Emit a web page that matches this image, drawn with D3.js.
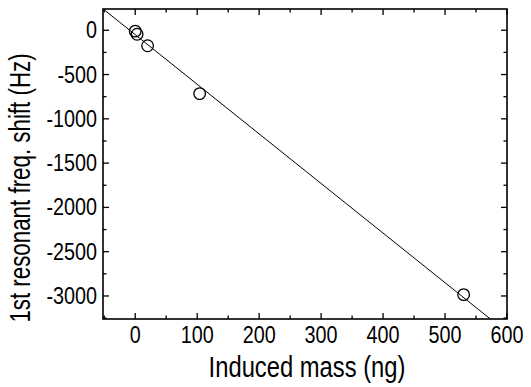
<!DOCTYPE html>
<html>
<head>
<meta charset="utf-8">
<script src="https://cdn.jsdelivr.net/npm/d3@7"></script>
<style>
  html, body { margin: 0; padding: 0; background: #fff; }
  svg { display: block; }
  text { font-family: Arial, "Liberation Sans", sans-serif; fill: #000; }
</style>
</head>
<body>
<svg id="chart" width="531" height="387"></svg>
<script>
// ---- data ----
const massNg = [0, 3, 20, 104, 530];
const freqShiftHz = [-10, -45, -175, -715, -2985];
const fitSlope = -5.6;      // Hz per ng
const fitIntercept = -50;   // Hz
const xTicks = [0, 100, 200, 300, 400, 500, 600];
const xMinorTicks = [-50, 50, 150, 250, 350, 450, 550];
const yTicks = [0, -500, -1000, -1500, -2000, -2500, -3000];
const yMinorTicks = [-250, -750, -1250, -1750, -2250, -2750, -3250];
const xTitle = "Induced mass (ng)";
const yTitle = "1st resonant freq. shift (Hz)";

// ---- layout ----
const svg = d3.select("#chart");
const L = 103, R = 507, T = 9, B = 319;
const x = d3.scaleLinear().domain([-52, 600]).range([L, R]);
const y = d3.scaleLinear().domain([-3260, 240]).range([B, T]);

const majorLen = 6, minorLen = 3.5;
const fmt = d => String(d);

function tickLines(g, scale, values, len, orient) {
  g.selectAll(null).data(values).enter().append("line")
    .attr("stroke", "#000").attr("stroke-width", 1.3)
    .each(function(d) {
      const s = d3.select(this);
      if (orient === "bottom") s.attr("x1", scale(d)).attr("x2", scale(d)).attr("y1", B).attr("y2", B - len);
      if (orient === "top") s.attr("x1", scale(d)).attr("x2", scale(d)).attr("y1", T).attr("y2", T + len);
      if (orient === "left") s.attr("y1", scale(d)).attr("y2", scale(d)).attr("x1", L).attr("x2", L + len);
      if (orient === "right") s.attr("y1", scale(d)).attr("y2", scale(d)).attr("x1", R).attr("x2", R - len);
    });
}

const axes = svg.append("g");
tickLines(axes, x, xTicks, majorLen, "bottom");
tickLines(axes, x, xMinorTicks, minorLen, "bottom");
tickLines(axes, x, xTicks, majorLen, "top");
tickLines(axes, x, xMinorTicks, minorLen, "top");
tickLines(axes, y, yTicks, majorLen, "left");
tickLines(axes, y, yMinorTicks, minorLen, "left");
tickLines(axes, y, yTicks, majorLen, "right");
tickLines(axes, y, yMinorTicks, minorLen, "right");

// frame
axes.append("rect").attr("x", L).attr("y", T).attr("width", R - L).attr("height", B - T)
  .attr("fill", "none").attr("stroke", "#000").attr("stroke-width", 1.6);

// tick labels
const sx = 0.86;
svg.append("g").selectAll("text").data(xTicks).enter().append("text")
  .attr("transform", d => `translate(${x(d)},${B + 24}) scale(${sx},1)`)
  .attr("text-anchor", "middle").attr("font-size", 23).text(fmt);

svg.append("g").selectAll("text").data(yTicks).enter().append("text")
  .attr("transform", d => `translate(97,${y(d) + 8}) scale(${sx},1)`)
  .attr("text-anchor", "end").attr("font-size", 23).text(fmt);

// axis titles
svg.append("text")
  .attr("transform", `translate(${(L + R) / 2 + 2},${377}) scale(0.82,1)`)
  .attr("text-anchor", "middle").attr("font-size", 29).text(xTitle);

svg.append("text")
  .attr("transform", `translate(30,${(35 + 333) / 2 + 4}) rotate(-90) scale(0.77,1)`)
  .attr("text-anchor", "middle").attr("font-size", 29).text(yTitle);

// clip for fit line
svg.append("clipPath").attr("id", "plotclip").append("rect")
  .attr("x", L).attr("y", T).attr("width", R - L).attr("height", B - T);

const fitX = x.domain();
const fitPts = [fitX[0] - 10, fitX[1] + 10].map(v => [v, fitSlope * v + fitIntercept]);
svg.append("path")
  .attr("clip-path", "url(#plotclip)")
  .attr("d", d3.line().x(d => x(d[0])).y(d => y(d[1]))(fitPts))
  .attr("fill", "none").attr("stroke", "#000").attr("stroke-width", 1);

// data points
svg.append("g").selectAll("circle").data(massNg.map((m, i) => [m, freqShiftHz[i]])).enter()
  .append("circle")
  .attr("cx", d => x(d[0])).attr("cy", d => y(d[1])).attr("r", 5.8)
  .attr("fill", "none").attr("stroke", "#000").attr("stroke-width", 1.3);
</script>
</body>
</html>
